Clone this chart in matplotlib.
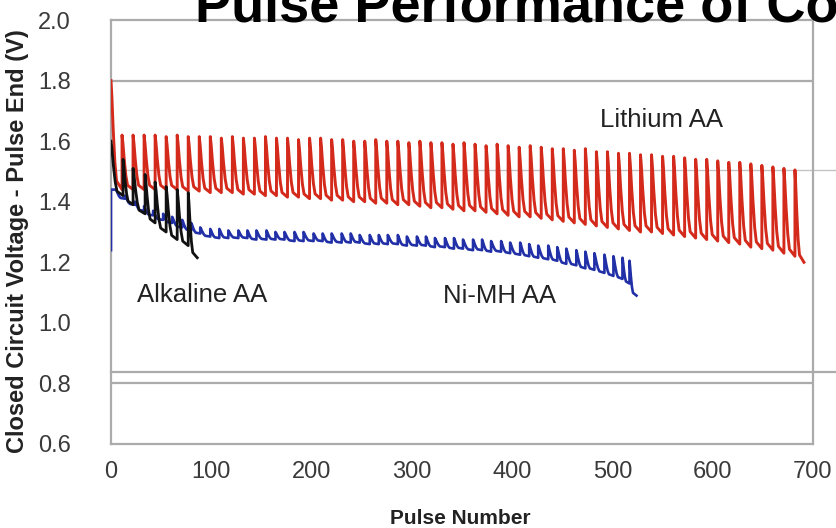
import matplotlib
matplotlib.use('Agg')
import matplotlib.pyplot as plt

plt.rcParams['font.family'] = ['Liberation Sans', 'DejaVu Sans']

# Pulse start positions (pulse number), peak voltage and end-of-pulse voltage
lithium_x = [0, 11, 22, 33, 44, 55, 66, 77, 88, 99, 110, 121, 132, 143, 154, 165, 176, 187,
             198, 209, 220, 231, 242, 253, 264, 275, 286, 297, 308, 319, 330, 341, 352, 363,
             374, 385, 396, 407, 418, 429, 440, 451, 462, 473, 484, 495, 506, 517, 528, 539,
             550, 561, 572, 583, 594, 605, 616, 627, 638, 649, 660, 671, 682]
lithium_peak = [1.80,
                1.62, 1.62, 1.62, 1.62, 1.615, 1.62, 1.615, 1.615, 1.615, 1.61,
                1.615, 1.61, 1.61, 1.615, 1.61, 1.61, 1.605, 1.61, 1.61, 1.605,
                1.605, 1.60, 1.60, 1.605, 1.60, 1.60, 1.595, 1.60, 1.595, 1.595,
                1.59, 1.595, 1.59, 1.585, 1.59, 1.585, 1.58, 1.585, 1.58, 1.575,
                1.575, 1.57, 1.575, 1.565, 1.565, 1.56, 1.56, 1.555, 1.555, 1.55,
                1.55, 1.545, 1.54, 1.54, 1.535, 1.53, 1.53, 1.525, 1.52, 1.515, 1.51, 1.505]
lithium_end = [1.44,
               1.44, 1.44, 1.44, 1.44, 1.44, 1.435, 1.435, 1.43, 1.43, 1.43,
               1.425, 1.425, 1.42, 1.42, 1.415, 1.415, 1.41, 1.41, 1.405, 1.405,
               1.40, 1.40, 1.395, 1.395, 1.39, 1.39, 1.385, 1.38, 1.38, 1.375,
               1.37, 1.37, 1.365, 1.36, 1.355, 1.35, 1.35, 1.345, 1.34, 1.335,
               1.33, 1.325, 1.32, 1.315, 1.31, 1.305, 1.30, 1.30, 1.295, 1.29,
               1.285, 1.28, 1.275, 1.27, 1.265, 1.26, 1.25, 1.245, 1.24, 1.23, 1.22, 1.20]

nimh_x = [5, 14, 24, 33, 42, 52, 61, 71, 80, 89, 99, 108, 117, 127, 136, 145, 155, 164,
          173, 183, 192, 202, 211, 220, 230, 239, 248, 258, 267, 276, 286, 295, 305, 314,
          323, 333, 342, 351, 361, 370, 379, 389, 398, 408, 417, 426, 436, 445, 454, 464,
          473, 482, 492, 501, 510, 517]
nimh_peak = [1.44, 1.42, 1.40, 1.385, 1.37, 1.36, 1.35, 1.34, 1.33, 1.315,
             1.31, 1.31, 1.305, 1.305, 1.305, 1.305, 1.305, 1.30, 1.30, 1.30,
             1.30, 1.295, 1.295, 1.295, 1.295, 1.295, 1.29, 1.29, 1.29, 1.29,
             1.29, 1.285, 1.285, 1.285, 1.28, 1.28, 1.28, 1.275, 1.275, 1.275,
             1.27, 1.27, 1.265, 1.265, 1.26, 1.255, 1.255, 1.25, 1.245, 1.24,
             1.235, 1.23, 1.225, 1.22, 1.215, 1.205]
nimh_end = [1.41, 1.39, 1.37, 1.355, 1.34, 1.33, 1.315, 1.305, 1.295, 1.285,
            1.28, 1.28, 1.28, 1.28, 1.275, 1.275, 1.275, 1.275, 1.27, 1.27,
            1.27, 1.27, 1.265, 1.265, 1.265, 1.265, 1.26, 1.26, 1.26, 1.26,
            1.255, 1.255, 1.255, 1.25, 1.25, 1.245, 1.245, 1.24, 1.24, 1.235,
            1.235, 1.23, 1.225, 1.22, 1.215, 1.21, 1.205, 1.195, 1.19, 1.18,
            1.175, 1.165, 1.155, 1.145, 1.13, 1.09]

alkaline_x = [0, 12, 22, 34, 44, 55, 66, 77]
alkaline_peak = [1.60, 1.54, 1.51, 1.49, 1.465, 1.45, 1.44, 1.43]
alkaline_end = [1.42, 1.39, 1.36, 1.33, 1.30, 1.275, 1.255, 1.215]

# shape of one pulse: fraction of the interval vs fraction of (peak - end)
PULSE_T = [0.0, 0.08, 0.2, 0.35, 0.5, 1.0]
PULSE_F = [1.0, 0.85, 0.55, 0.25, 0.08, 0.0]


def pulse_train(xs, peaks, ends, last_width, start_level):
    px, py = [], []
    prev = start_level
    for k in range(len(xs)):
        width = xs[k + 1] - xs[k] if k + 1 < len(xs) else last_width
        px.append(xs[k])
        py.append(prev)
        for t, f in zip(PULSE_T, PULSE_F):
            px.append(xs[k] + t * width)
            py.append(ends[k] + f * (peaks[k] - ends[k]))
        prev = ends[k]
    return px, py


fig = plt.figure(figsize=(8.36, 5.28), dpi=100)
ax = fig.add_axes([111 / 836, 1 - 444 / 528, 702 / 836, 424 / 528])

grid_c = '#ababab'
for v in (1.8, 0.8):
    ax.axhline(v, color=grid_c, lw=1.6, zorder=1)
# extra reference lines that run past the right edge
ax.plot([0, 1.035], [0.646, 0.646], transform=ax.transAxes, color='#c4c4c4', lw=1.0,
        clip_on=False, zorder=1)
ax.plot([0, 1.035], [0.17, 0.17], transform=ax.transAxes, color=grid_c, lw=1.6,
        clip_on=False, zorder=1)

lx, ly = pulse_train(lithium_x, lithium_peak, lithium_end, 9, 1.80)
ax.plot(lx, ly, color='#d42a1c', lw=2.1, zorder=3)
nx, ny = pulse_train(nimh_x, nimh_peak, nimh_end, 7, 1.44)
ax.plot([0, 0] + nx, [1.24, 1.44] + ny, color='#2230a8', lw=1.9, zorder=4)
bx, by = pulse_train(alkaline_x, alkaline_peak, alkaline_end, 9, 1.60)
ax.plot(bx, by, color='#111111', lw=2.0, zorder=5)

ax.set_xlim(0, 700)
ax.set_ylim(0.6, 2.0)
ax.set_xticks(range(0, 701, 100))
ax.set_yticks([0.6, 0.8, 1.0, 1.2, 1.4, 1.6, 1.8, 2.0])
ax.set_yticklabels(['0.6', '0.8', '1.0', '1.2', '1.4', '1.6', '1.8', '2.0'])
ax.tick_params(axis='both', length=0, labelsize=17, labelcolor='#3a3a3a')
ax.tick_params(axis='y', pad=29)
ax.tick_params(axis='x', pad=12)
for s in ax.spines.values():
    s.set_color(grid_c)
    s.set_linewidth(1.6)

ax.text(488, 1.67, 'Lithium AA', fontsize=18.5, color='#222222', va='center')
ax.text(26, 1.092, 'Alkaline AA', fontsize=18.5, color='#222222', va='center')
ax.text(331, 1.089, 'Ni-MH AA', fontsize=18.5, color='#222222', va='center')

fig.text(18 / 836, 1 - 241 / 528, 'Closed Circuit Voltage - Pulse End (V)', rotation=90,
         ha='center', va='center', fontsize=17, fontweight='bold', color='#222222')
fig.text(460 / 836, 1 - 518 / 528, 'Pulse Number', ha='center', va='center', fontsize=15,
         fontweight='bold', color='#222222')
fig.text(195 / 836, 1 - 21 / 528, 'Pulse Performance of Co', ha='left', va='baseline',
         fontsize=39, fontweight='bold', color='black')

fig.savefig('out.png', dpi=100, facecolor='white')
